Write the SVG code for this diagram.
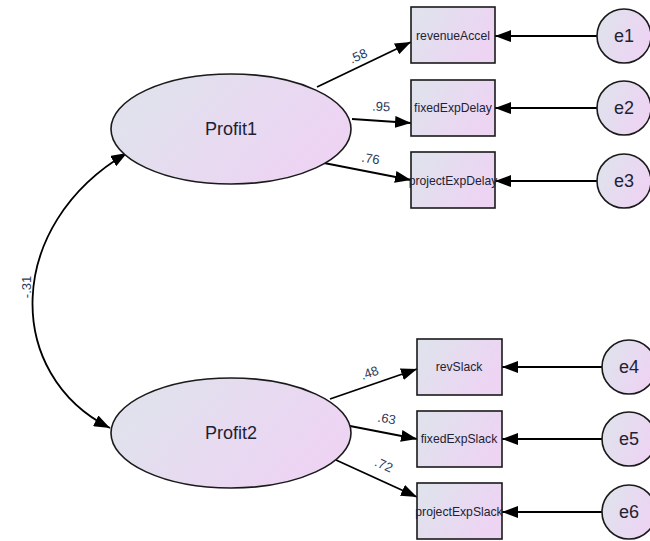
<svg xmlns="http://www.w3.org/2000/svg" width="650" height="541" viewBox="0 0 650 541">
<defs>
<linearGradient id="g" x1="0" y1="0" x2="1" y2="0.4">
<stop offset="0" stop-color="#dee4ec"/>
<stop offset="1" stop-color="#edd4f3"/>
</linearGradient>
<marker id="ah" viewBox="0 0 16 12" refX="16" refY="6" markerWidth="16" markerHeight="12" markerUnits="userSpaceOnUse" orient="auto-start-reverse">
<path d="M0,0 L16,6 L0,12 Z" fill="#000"/>
</marker>
<style>
.n{fill:url(#g);stroke:#1a1a1a;stroke-width:1.6}
.c{fill:none;stroke:#000;stroke-width:1.8;marker-end:url(#ah)}
.lv{font-family:"Liberation Sans",Arial,sans-serif;font-size:18px;fill:#1e2233;text-anchor:middle}
.ov{font-family:"Liberation Sans",Arial,sans-serif;font-size:12.2px;fill:#1e2233;text-anchor:middle}
.w{font-family:"Liberation Sans",Arial,sans-serif;font-size:13px;fill:#2d3a5a;text-anchor:middle}
</style>
</defs>
<g id="connectors">
<path class="c" d="M127,153 C4,225 4,375 110,428" marker-start="url(#ah)"/>
<line class="c" x1="317" y1="87" x2="411" y2="42"/>
<line class="c" x1="352" y1="119" x2="411" y2="123"/>
<line class="c" x1="324" y1="163" x2="411" y2="180"/>
<line class="c" x1="330" y1="399" x2="417" y2="369"/>
<line class="c" x1="350" y1="426" x2="417" y2="439"/>
<line class="c" x1="336" y1="460" x2="417" y2="497"/>
<line class="c" x1="597" y1="36" x2="495" y2="36"/>
<line class="c" x1="597" y1="108" x2="495" y2="108"/>
<line class="c" x1="597" y1="181" x2="495" y2="181"/>
<line class="c" x1="602" y1="367" x2="502" y2="367"/>
<line class="c" x1="602" y1="439" x2="502" y2="439"/>
<line class="c" x1="602" y1="512" x2="502" y2="512"/>
<text class="w" transform="translate(31,287) rotate(-90)">-.31</text>
<text class="w" transform="translate(360,60) rotate(-24)">.58</text>
<text class="w" transform="translate(381,111) rotate(3)">.95</text>
<text class="w" transform="translate(370,163) rotate(9)">.76</text>
<text class="w" transform="translate(371,377) rotate(-20)">.48</text>
<text class="w" transform="translate(386,423) rotate(10)">.63</text>
<text class="w" transform="translate(382,469) rotate(24)">.72</text>
</g>
<g id="Profit1"><ellipse class="n" cx="231" cy="129" rx="120" ry="55"/><text class="lv" x="231" y="135">Profit1</text></g>
<g id="Profit2"><ellipse class="n" cx="231" cy="433" rx="120" ry="55"/><text class="lv" x="231" y="439">Profit2</text></g>
<g id="revenueAccel"><rect class="n" x="411" y="7" width="84" height="56"/><text class="ov" x="453" y="40">revenueAccel</text></g>
<g id="fixedExpDelay"><rect class="n" x="411" y="80" width="84" height="56"/><text class="ov" x="453" y="112">fixedExpDelay</text></g>
<g id="projectExpDelay"><rect class="n" x="411" y="152" width="84" height="56"/><text class="ov" x="453" y="185">projectExpDelay</text></g>
<g id="revSlack"><rect class="n" x="417" y="339" width="85" height="56"/><text class="ov" x="459" y="371">revSlack</text></g>
<g id="fixedExpSlack"><rect class="n" x="417" y="411" width="85" height="56"/><text class="ov" x="459" y="443">fixedExpSlack</text></g>
<g id="projectExpSlack"><rect class="n" x="417" y="483" width="85" height="56"/><text class="ov" x="459" y="516">projectExpSlack</text></g>
<g id="e1"><circle class="n" cx="624" cy="36" r="27"/><text class="lv" x="624" y="42">e1</text></g>
<g id="e2"><circle class="n" cx="624" cy="108" r="27"/><text class="lv" x="624" y="114">e2</text></g>
<g id="e3"><circle class="n" cx="624" cy="181" r="27"/><text class="lv" x="624" y="187">e3</text></g>
<g id="e4"><circle class="n" cx="629" cy="367" r="27"/><text class="lv" x="629" y="373">e4</text></g>
<g id="e5"><circle class="n" cx="629" cy="439" r="27"/><text class="lv" x="629" y="445">e5</text></g>
<g id="e6"><circle class="n" cx="629" cy="512" r="27"/><text class="lv" x="629" y="518">e6</text></g>
</svg>
